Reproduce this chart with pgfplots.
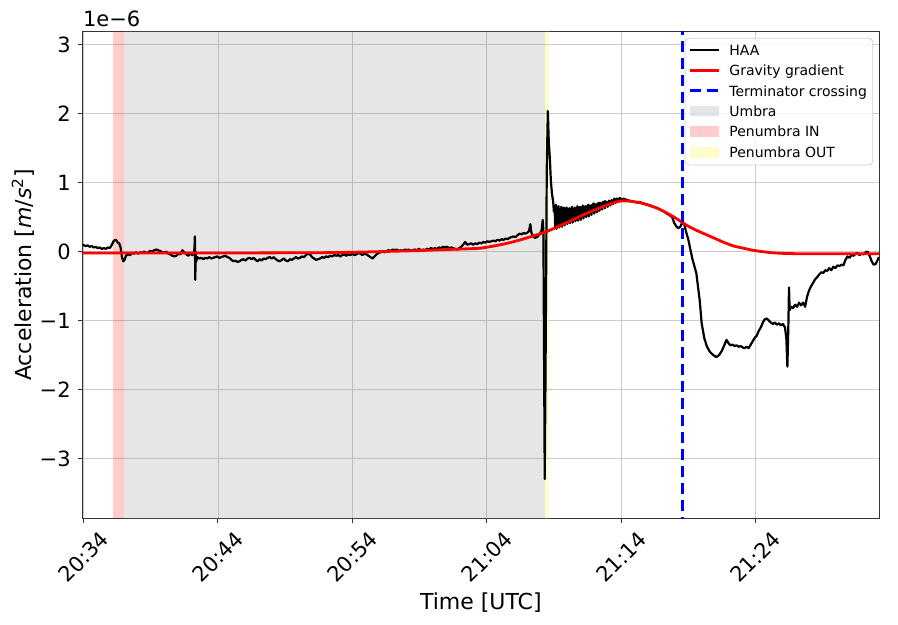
\documentclass[border=0pt]{standalone}
\usepackage{fontspec}
\setmainfont{DejaVu Sans}
\usepackage{pgfplots}
\pgfplotsset{compat=1.18}
\definecolor{gridc}{HTML}{CCCCCC}
\definecolor{legc}{HTML}{D0D0D0}
\begin{document}
\begin{tikzpicture}
\begin{axis}[
  scale only axis, width=398.2pt, height=243.2pt,
  xmin=-0.07, xmax=59.2, ymin=-3.865, ymax=3.19,
  xtick={0,10,20,30,40,50},
  xticklabels={20:34,20:44,20:54,21:04,21:14,21:24},
  ytick={-3,-2,-1,0,1,2,3},
  yticklabels={−3,−2,−1,0,1,2,3},
  grid=major, major grid style={gridc, line width=0.4pt},
  axis line style={black!80, line width=0.5pt},
  tick align=outside, tick pos=left,
  major tick length=2.5pt, tick style={black!80, line width=0.5pt},
  ticklabel style={font=\fontsize{10.5}{12}\selectfont},
  xticklabel style={yshift=-17pt, rotate=45, anchor=center},
  label style={font=\fontsize{11}{13}\selectfont},
  xlabel={Time [UTC]}, xlabel style={yshift=4pt},
  ylabel={Acceleration [\textit{m}/\textit{s}\textsuperscript{2}]},
  ylabel style={yshift=-4pt},
]
% shaded regions
\addplot[draw=none, fill=gray, fill opacity=0.2, forget plot] coordinates {(3.03,-5) (3.03,5) (34.33,5) (34.33,-5)} -- cycle;
\addplot[draw=none, fill=red, fill opacity=0.2, forget plot] coordinates {(2.21,-5) (2.21,5) (3.03,5) (3.03,-5)} -- cycle;
\addplot[draw=none, fill=yellow, fill opacity=0.2, forget plot] coordinates {(34.33,-5) (34.33,5) (34.63,5) (34.63,-5)} -- cycle;
% HAA
\addplot[black, line width=1.1pt, line join=round] coordinates {
(-0.07,0.10)(0.15,0.08)(0.3,0.09)(0.45,0.07)(0.6,0.08)(0.75,0.06)(0.9,0.07)(1.05,0.05)(1.2,0.06)(1.35,0.04)(1.5,0.05)(1.65,0.04)(1.8,0.06)(1.95,0.05)(2.1,0.10)(2.25,0.16)(2.4,0.17)(2.55,0.13)(2.65,0.12)(2.75,0.06)(2.85,-0.08)(2.95,-0.14)(3.05,-0.12)(3.15,-0.06)(3.3,-0.04)(3.45,-0.05)(3.6,-0.02)(3.75,-0.03)(3.9,-0.01)(4.05,-0.03)(4.2,-0.01)(4.35,-0.02)(4.5,0.00)(4.65,-0.02)(4.8,-0.01)(4.95,0.01)(5.1,0.00)(5.25,0.02)(5.4,0.03)(5.55,0.02)(5.7,0.01)(5.85,-0.01)(6.0,-0.02)(6.15,0.0)(6.3,-0.03)(6.45,-0.04)(6.6,-0.06)(6.75,-0.07)(6.9,-0.06)(7.05,-0.03)(7.2,-0.04)(7.35,0.02)(7.5,-0.01)(7.65,-0.04)(7.8,-0.06)(7.95,-0.03)(8.1,-0.05)(8.2,-0.02)(8.25,0.05)(8.28,0.22)(8.31,-0.41)(8.34,0.0)(8.37,-0.15)(8.45,-0.08)(8.6,-0.10)
(8.75,-0.09)(8.9,-0.11)(9.05,-0.09)(9.2,-0.10)(9.35,-0.08)(9.5,-0.10)(9.65,-0.09)(9.8,-0.08)(9.95,-0.07)(10.1,-0.09)(10.25,-0.08)(10.4,-0.07)(10.55,-0.06)(10.7,-0.08)(10.85,-0.09)(11.0,-0.12)(11.15,-0.14)(11.3,-0.13)(11.45,-0.15)(11.6,-0.14)(11.75,-0.12)(11.9,-0.11)(12.05,-0.13)(12.2,-0.10)(12.35,-0.09)(12.5,-0.11)(12.65,-0.09)(12.8,-0.12)(12.95,-0.14)(13.1,-0.11)(13.25,-0.13)(13.4,-0.10)(13.55,-0.11)(13.7,-0.09)(13.85,-0.08)(14.0,-0.10)(14.15,-0.08)(14.3,-0.11)(14.45,-0.13)(14.6,-0.14)(14.75,-0.12)(14.9,-0.10)(15.05,-0.13)(15.2,-0.14)(15.35,-0.11)(15.5,-0.12)(15.65,-0.10)(15.8,-0.08)(15.95,-0.10)(16.1,-0.09)(16.25,-0.07)(16.4,-0.08)(16.55,-0.05)(16.7,-0.03)(16.85,-0.04)(17.0,-0.08)(17.15,-0.10)(17.3,-0.12)(17.45,-0.11)(17.6,-0.10)(17.75,-0.08)(17.9,-0.09)(18.05,-0.07)(18.2,-0.08)(18.35,-0.06)(18.5,-0.07)(18.65,-0.05)(18.8,-0.06)(18.95,-0.05)(19.1,-0.07)(19.25,-0.05)(19.4,-0.04)(19.55,-0.06)(19.7,-0.04)(19.85,-0.05)(20.0,-0.03)(20.15,-0.05)(20.3,-0.04)(20.45,-0.02)(20.6,-0.03)(20.75,-0.05)(20.9,-0.03)(21.05,-0.04)(21.2,-0.06)(21.35,-0.08)(21.5,-0.10)(21.65,-0.07)(21.8,-0.04)(21.95,-0.02)(22.1,-0.01)(22.25,0.00)(22.4,-0.01)(22.55,0.01)(22.7,0.02)(22.85,0.01)(23.0,0.03)(23.15,0.02)(23.3,0.03)(23.45,0.01)(23.6,0.02)(23.75,0.01)(23.9,0.03)(24.05,0.02)(24.2,0.03)(24.35,0.01)(24.5,0.02)(24.65,0.03)(24.8,0.02)(24.95,0.04)(25.1,0.02)(25.25,0.03)(25.4,0.02)(25.55,0.04)(25.7,0.03)(25.85,0.05)(26.0,0.04)(26.15,0.05)(26.3,0.04)(26.45,0.06)(26.6,0.05)(26.75,0.07)(26.9,0.06)(27.05,0.07)(27.2,0.05)(27.35,0.06)(27.5,0.05)(27.65,0.04)(27.8,0.03)(27.95,0.05)(28.1,0.07)(28.25,0.10)(28.4,0.14)(28.55,0.10)(28.7,0.11)(28.85,0.12)(29.0,0.10)(29.15,0.12)(29.3,0.11)(29.45,0.13)(29.6,0.12)(29.75,0.14)(29.9,0.13)(30.05,0.15)(30.2,0.14)(30.35,0.15)(30.5,0.16)(30.65,0.15)(30.8,0.17)(30.95,0.16)(31.1,0.18)(31.25,0.17)(31.4,0.19)(31.55,0.18)(31.7,0.20)(31.85,0.21)(32.0,0.22)(32.15,0.21)(32.3,0.24)(32.45,0.26)(32.6,0.25)(32.75,0.27)(32.9,0.26)(33.05,0.28)(33.15,0.30)(33.25,0.40)(33.32,0.28)(33.45,0.22)(33.6,0.20)(33.75,0.21)(33.9,0.24)(34.0,0.27)(34.1,0.32)(34.17,0.46)(34.22,0.30)(34.27,-1.5)(34.32,-3.30)(34.37,-2.0)(34.42,-0.5)(34.47,1.2)(34.55,2.04)(34.62,1.6)(34.7,1.35)(34.77,1.05)(34.85,0.85)(34.95,0.72)(35.0,0.58)
(35.05,0.66)(35.1,0.36)(35.15,0.68)(35.2,0.33)(35.25,0.64)(35.3,0.38)(35.35,0.66)(35.4,0.35)(35.45,0.62)(35.5,0.40)(35.55,0.65)(35.6,0.36)(35.65,0.63)(35.7,0.41)(35.75,0.64)(35.8,0.38)(35.85,0.62)(35.9,0.42)(35.95,0.64)(36.0,0.40)(36.05,0.61)(36.1,0.43)(36.15,0.63)(36.2,0.41)(36.25,0.62)(36.3,0.45)(36.35,0.65)(36.4,0.42)(36.45,0.62)(36.5,0.46)(36.55,0.64)(36.6,0.44)(36.65,0.63)(36.7,0.47)(36.75,0.66)(36.8,0.45)(36.85,0.63)(36.9,0.49)(36.95,0.65)(37.0,0.46)(37.05,0.64)(37.1,0.50)(37.15,0.67)(37.2,0.48)(37.25,0.65)(37.3,0.52)(37.35,0.66)(37.4,0.50)(37.45,0.66)(37.5,0.54)(37.55,0.68)(37.6,0.51)(37.65,0.67)(37.7,0.56)(37.75,0.67)(37.8,0.53)(37.85,0.68)(37.9,0.58)(37.95,0.70)(38.0,0.55)(38.05,0.69)(38.1,0.60)(38.15,0.68)(38.2,0.57)(38.25,0.70)(38.3,0.62)(38.35,0.71)(38.4,0.59)(38.45,0.71)(38.5,0.64)(38.55,0.70)(38.6,0.61)(38.65,0.72)(38.7,0.66)(38.75,0.73)(38.8,0.63)(38.85,0.73)(38.9,0.68)(38.95,0.72)(39.0,0.65)(39.1,0.74)(39.2,0.67)(39.3,0.75)(39.4,0.69)(39.5,0.77)(39.6,0.71)(39.7,0.77)(39.8,0.73)(39.9,0.78)(40.0,0.75)
(40.2,0.77)(40.4,0.75)(40.6,0.74)(40.8,0.73)(41.0,0.72)(41.2,0.71)(41.4,0.72)(41.6,0.70)(41.8,0.69)(42.0,0.68)(42.2,0.67)(42.4,0.65)(42.6,0.64)(42.8,0.62)(43.0,0.60)(43.2,0.58)(43.4,0.55)(43.6,0.53)(43.8,0.50)(43.95,0.42)(44.1,0.37)(44.25,0.34)(44.4,0.36)(44.55,0.42)(44.7,0.40)(44.85,0.28)(45.0,0.18)(45.3,-0.10)(45.6,-0.31)(45.85,-0.70)(46.0,-1.04)(46.2,-1.26)(46.4,-1.38)(46.6,-1.45)(46.85,-1.50)(47.1,-1.53)(47.3,-1.50)(47.5,-1.44)(47.7,-1.35)(47.85,-1.28)(48.0,-1.33)(48.15,-1.36)(48.3,-1.35)(48.45,-1.37)(48.6,-1.36)(48.75,-1.38)(48.9,-1.37)(49.05,-1.39)(49.2,-1.40)(49.35,-1.38)(49.5,-1.40)(49.65,-1.35)(49.8,-1.30)(49.95,-1.25)(50.1,-1.22)(50.25,-1.15)(50.4,-1.10)(50.55,-1.03)(50.7,-0.98)(50.85,-0.97)(51.0,-1.00)(51.15,-1.03)(51.3,-1.05)(51.45,-1.03)(51.6,-1.06)(51.75,-1.04)(51.9,-1.07)(52.05,-1.05)(52.2,-1.10)(52.3,-1.25)(52.38,-1.67)(52.45,-1.10)(52.5,-0.52)(52.55,-0.85)(52.65,-0.80)(52.8,-0.82)(52.95,-0.77)(53.1,-0.80)(53.25,-0.74)(53.4,-0.78)(53.55,-0.74)(53.7,-0.80)(53.85,-0.65)(54.0,-0.56)(54.15,-0.50)(54.3,-0.45)(54.45,-0.40)(54.6,-0.37)(54.75,-0.33)(54.9,-0.30)(55.05,-0.31)(55.2,-0.27)(55.35,-0.28)(55.5,-0.24)(55.65,-0.27)(55.8,-0.22)(55.95,-0.24)(56.1,-0.20)(56.25,-0.21)(56.4,-0.19)(56.55,-0.20)(56.7,-0.12)(56.85,-0.07)(57.0,-0.09)(57.15,-0.05)(57.3,-0.06)(57.45,-0.03)(57.6,-0.02)(57.75,-0.05)(57.9,-0.03)(58.05,-0.04)(58.2,-0.01)(58.35,0.00)(58.5,-0.06)(58.65,-0.14)(58.8,-0.19)(58.95,-0.18)(59.1,-0.12)(59.2,-0.08)
};
% gravity gradient
\addplot[red, line width=1.4pt, smooth] coordinates {
(-0.07,-0.02)(10,-0.02)(18,-0.015)(21,-0.005)(23,0.005)(25,0.015)(27,0.03)(28.5,0.04)(29.5,0.05)(30.5,0.08)(31.5,0.12)(32.5,0.17)(33.5,0.23)(34.45,0.29)(35.5,0.38)(36.5,0.47)(37.5,0.56)(38.5,0.64)(39.3,0.70)(40.0,0.735)(40.7,0.73)(41.4,0.71)(42.1,0.67)(42.8,0.62)(43.5,0.55)(44.2,0.47)(44.9,0.38)(45.6,0.31)(46.3,0.25)(47.0,0.19)(47.7,0.13)(48.4,0.08)(49.1,0.05)(49.8,0.02)(50.5,0.0)(51.5,-0.02)(53,-0.03)(56,-0.03)(59.2,-0.03)
};
% terminator
\addplot[blue, line width=1.5pt, dash pattern=on 5.5pt off 3pt] coordinates {(44.6,-5) (44.6,5)};
\end{axis}
\node[anchor=south west, inner sep=0pt, font=\fontsize{10.5}{12}\selectfont] at ([yshift=2pt]current axis.north west) {1e−6};
% legend
\begin{scope}[shift={(current axis.north east)}, every node/.style={anchor=west, inner sep=0pt, text height=5.1pt, text depth=0pt, font=\fontsize{7}{8.4}\selectfont}]
\draw[legc, line width=0.4pt, fill=white, fill opacity=0.8, rounded corners=2pt] (-97pt,-3.3pt) rectangle (-3.15pt,-66.65pt);
\draw[black, line width=1.1pt] (-94.5pt,-9.15pt) -- (-79.85pt,-9.15pt);
\node at (-75pt,-9.15pt) {HAA};
\draw[red, line width=1.4pt] (-94.5pt,-19.5pt) -- (-79.85pt,-19.5pt);
\node at (-75pt,-19.5pt) {Gravity gradient};
\draw[blue, line width=1.5pt, dash pattern=on 5.5pt off 3pt] (-94.5pt,-29.65pt) -- (-79.85pt,-29.65pt);
\node at (-75pt,-29.65pt) {Terminator crossing};
\fill[gray, fill opacity=0.2] (-94.5pt,-37pt) rectangle (-79.85pt,-42.3pt);
\node at (-75pt,-39.65pt) {Umbra};
\fill[red, fill opacity=0.2] (-94.5pt,-47.35pt) rectangle (-79.85pt,-52.65pt);
\node at (-75pt,-50pt) {Penumbra IN};
\fill[yellow, fill opacity=0.2] (-94.5pt,-57.65pt) rectangle (-79.85pt,-62.95pt);
\node at (-75pt,-60.3pt) {Penumbra OUT};
\end{scope}
\pgfresetboundingbox
\path ([xshift=-41.35pt,yshift=-53pt]current axis.south west) rectangle ([xshift=9.5pt,yshift=15.85pt]current axis.north east);
\end{tikzpicture}
\end{document}
